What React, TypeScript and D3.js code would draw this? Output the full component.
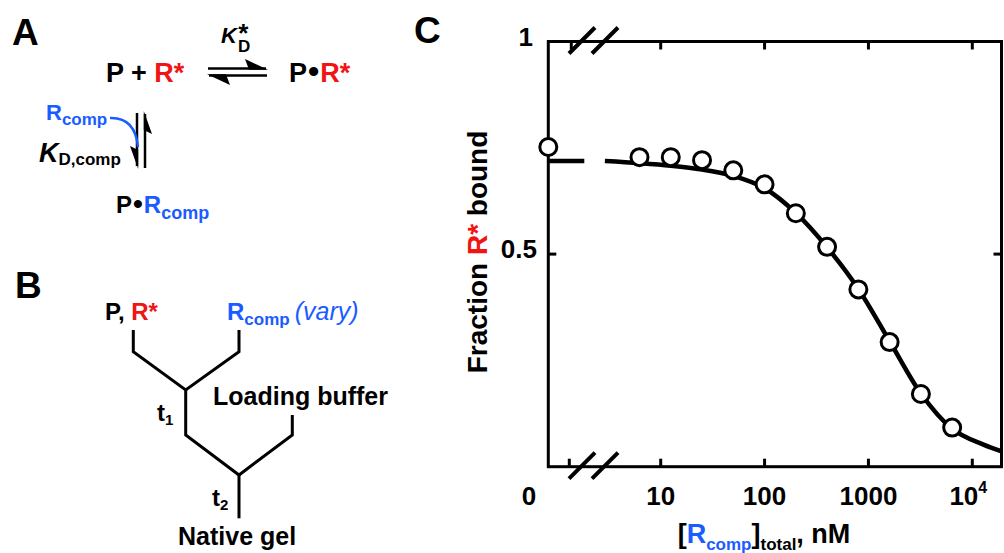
import * as d3 from 'd3';

// measured data: [Rcomp] series (2-fold dilutions), fraction of R* bound
const concentrations = [6.25, 12.5, 25, 50, 100, 200, 400, 800, 1600, 3200, 6400];
const fractionBound = [0.728, 0.728, 0.721, 0.697, 0.664, 0.596, 0.517, 0.417, 0.293, 0.171, 0.092];
const zeroConcFraction = 0.752;

// fit line
const fitConc = [2.9, 6.25, 12.5, 25, 50, 100, 200, 400, 800, 1600, 3200, 6400, 12800, 19200];
const fitFraction = [0.719, 0.714, 0.708, 0.699, 0.684, 0.655, 0.597, 0.516, 0.418, 0.295, 0.172, 0.089, 0.052, 0.036];
const fitZero = 0.719;

const xTicks = [10, 100, 1000, 10000];
const xTickLabels = ['10', '100', '1000', '10'];
const yTicks = [0.5];

const FONT = "'Liberation Sans', Arial, Helvetica, sans-serif";
const RED = '#f01414';
const BLUE = '#1a5cff';

const W = 1004;
const H = 553;
const plot = { left: 548.3, right: 1001.5, top: 41.5, bottom: 466.7 };

const x = d3.scaleLog().domain([10, 10000]).range([660.7, 972.3]);
const y = d3.scaleLinear().domain([0, 1]).range([plot.bottom, plot.top]);

const fitLine = d3
  .line<number>()
  .x((_, i) => x(fitConc[i]))
  .y((d) => y(d))
  .curve(d3.curveMonotoneX);

const Slashes = ({ yPos }: { yPos: number }) => (
  <g stroke="#000" strokeWidth={4} strokeLinecap="butt">
    <line x1={569} y1={yPos + 12} x2={595} y2={yPos - 14} />
    <line x1={592} y1={yPos + 12} x2={618} y2={yPos - 14} />
  </g>
);

const PanelA = () => (
  <g fontFamily={FONT} fontWeight="bold">
    <text x={12} y={45} fontSize={37}>A</text>
    {/* K_D* */}
    <text x={221} y={43} fontSize={22}>
      <tspan fontStyle="italic">K</tspan>
      <tspan fontSize={17} dx={1} dy={9}>D</tspan>
      <tspan fontSize={26} dx={-12} dy={-10}>*</tspan>
    </text>

    <text x={106} y={82} fontSize={27}>
      <tspan>P + </tspan>
      <tspan fill={RED}>R*</tspan>
    </text>
    <text x={289} y={82} fontSize={27}>
      <tspan>P</tspan>
      <tspan fontSize={32} dx={1}>•</tspan>
      <tspan fill={RED} dx={1}>R*</tspan>
    </text>

    <g stroke="#000" strokeWidth={2.5}>
      <line x1={208} y1={68.5} x2={266} y2={68.5} />
      <line x1={209} y1={75.5} x2={267} y2={75.5} />
      <line x1={137} y1={113} x2={137} y2={166} />
      <line x1={145} y1={114} x2={145} y2={168} />
    </g>
    <g fill="#000">
      <polygon points="268,69.8 245,59 249,69.8" />
      <polygon points="207,74.2 230,85 226,74.2" />
      <polygon points="138.2,169 130,146 138.2,150" />
      <polygon points="143.8,111 152,134 143.8,130" />
    </g>

    <text x={46} y={120} fontSize={22} fill={BLUE}>
      <tspan>R</tspan>
      <tspan fontSize={17} dy={5}>comp</tspan>
    </text>
    <path d="M110,118 Q135,117 138,147" fill="none" stroke={BLUE} strokeWidth={2.5} />

    <text x={39} y={162} fontSize={27}>
      <tspan fontStyle="italic">K</tspan>
      <tspan fontSize={17} dy={3}>D,comp</tspan>
    </text>

    <text x={116} y={213} fontSize={24}>
      <tspan>P</tspan>
      <tspan fontSize={28} dx={1}>•</tspan>
      <tspan fill={BLUE} dx={1}>R</tspan>
      <tspan fill={BLUE} fontSize={18} dy={6}>comp</tspan>
    </text>
  </g>
);

const PanelB = () => (
  <g fontFamily={FONT} fontWeight="bold">
    <text x={15} y={298} fontSize={37}>B</text>
    <text x={105} y={320} fontSize={24}>
      <tspan>P, </tspan>
      <tspan fill={RED}>R*</tspan>
    </text>
    <text x={227} y={320} fontSize={24} fill={BLUE}>
      <tspan>R</tspan>
      <tspan fontSize={17} dy={5}>comp</tspan>
      <tspan dy={-5} fontSize={25} fontWeight="normal" fontStyle="italic" dx={5}>(vary)</tspan>
    </text>

    <g fill="none" stroke="#000" strokeWidth={3} strokeLinejoin="miter">
      <polyline points="133.3,330 133.3,351.7 185.7,390 239,351.7 239,330" />
      <polyline points="185.7,390 185.7,435 239,475 292.3,435 292.3,415" />
      <line x1={239} y1={475} x2={239} y2={518.3} />
    </g>

    <text x={157} y={421} fontSize={24}>
      <tspan>t</tspan>
      <tspan fontSize={15} dy={4}>1</tspan>
    </text>
    <text x={213} y={405} fontSize={25}>Loading buffer</text>
    <text x={212} y={506} fontSize={24}>
      <tspan>t</tspan>
      <tspan fontSize={15} dy={4}>2</tspan>
    </text>
    <text x={178} y={545} fontSize={25}>Native gel</text>
  </g>
);

const PanelC = () => {
  const tickLen = 8;
  return (
    <g fontFamily={FONT} fontWeight="bold">
      <text x={414} y={43} fontSize={37}>C</text>

      {/* frame */}
      <rect
        x={plot.left}
        y={plot.top}
        width={plot.right - plot.left}
        height={plot.bottom - plot.top}
        fill="none"
        stroke="#000"
        strokeWidth={3}
      />

      {/* x ticks, bottom and top */}
      <g stroke="#000" strokeWidth={3}>
        {xTicks.map((t) => (
          <g key={t}>
            <line x1={x(t)} x2={x(t)} y1={plot.bottom} y2={plot.bottom - tickLen} />
            <line x1={x(t)} x2={x(t)} y1={plot.top} y2={plot.top + tickLen} />
          </g>
        ))}
        <line x1={plot.left + 21} x2={plot.left + 21} y1={plot.bottom} y2={plot.bottom - tickLen} />
        <line x1={plot.left + 23} x2={plot.left + 23} y1={plot.top} y2={plot.top + tickLen} />
        {yTicks.map((t) => (
          <g key={t}>
            <line x1={plot.left} x2={plot.left + tickLen} y1={y(t)} y2={y(t)} />
            <line x1={plot.right} x2={plot.right - tickLen} y1={y(t)} y2={y(t)} />
          </g>
        ))}
      </g>

      <Slashes yPos={plot.bottom} />
      <Slashes yPos={plot.top} />

      {/* tick labels */}
      <g fontSize={26}>
        {xTicks.map((t, i) =>
          t === 10000 ? (
            <text key={t} x={x(t) - 4} y={505} textAnchor="middle">
              <tspan>{xTickLabels[i]}</tspan>
              <tspan fontSize={16} dy={-12}>4</tspan>
            </text>
          ) : (
            <text key={t} x={x(t)} y={505} textAnchor="middle">
              {xTickLabels[i]}
            </text>
          ),
        )}
        <text x={529} y={505} textAnchor="middle">0</text>
        <text x={533} y={46} textAnchor="end">1</text>
        <text x={537} y={y(0.5) + 4} textAnchor="end">0.5</text>
      </g>

      {/* axis titles */}
      <text x={764} y={543} fontSize={27} textAnchor="middle">
        <tspan>[</tspan>
        <tspan fill={BLUE}>R</tspan>
        <tspan fill={BLUE} fontSize={17} dy={7}>comp</tspan>
        <tspan dy={-7}>]</tspan>
        <tspan fontSize={17} dy={7}>total</tspan>
        <tspan dy={-7}>, nM</tspan>
      </text>
      <text transform={`translate(487,${252}) rotate(-90)`} fontSize={28} textAnchor="middle">
        <tspan>Fraction </tspan>
        <tspan fill={RED}>R*</tspan>
        <tspan> bound</tspan>
      </text>

      {/* fit */}
      <line
        x1={plot.left}
        x2={plot.left + 36}
        y1={y(fitZero)}
        y2={y(fitZero)}
        stroke="#000"
        strokeWidth={4.5}
      />
      <path d={fitLine(fitFraction) ?? ''} fill="none" stroke="#000" strokeWidth={4.5} />

      {/* data */}
      <g fill="#fff" stroke="#000" strokeWidth={3}>
        <circle cx={plot.left} cy={y(zeroConcFraction)} r={8.5} />
        {concentrations.map((c, i) => (
          <circle key={c} cx={x(c)} cy={y(fractionBound[i])} r={8.5} />
        ))}
      </g>
    </g>
  );
};

export default function App() {
  return (
    <svg
      width={W}
      height={H}
      viewBox={`0 0 ${W} ${H}`}
      style={{ position: 'absolute', left: 0, top: 0, background: '#fff' }}
    >
      <PanelA />
      <PanelB />
      <PanelC />
    </svg>
  );
}
